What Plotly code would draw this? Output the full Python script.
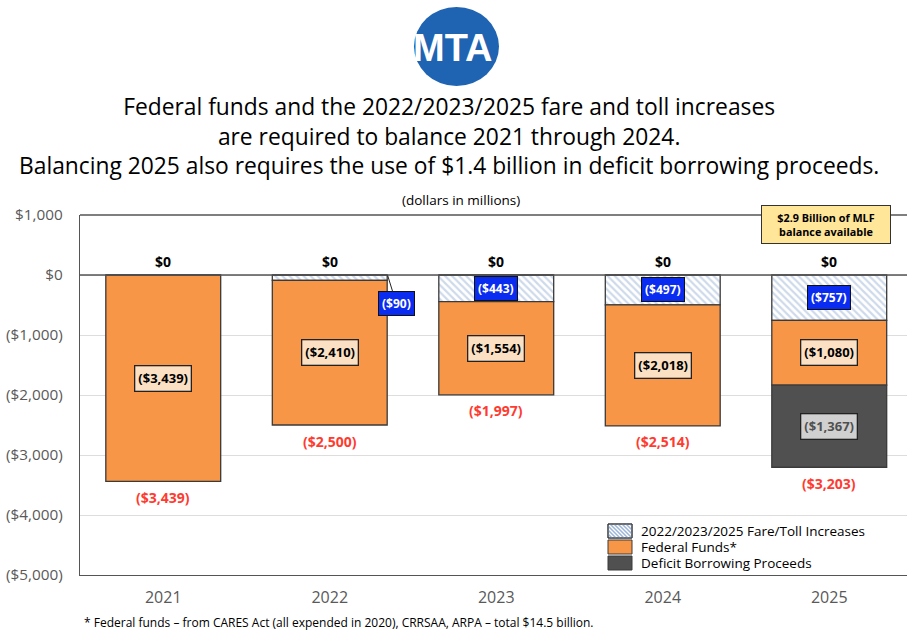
import plotly.graph_objects as go

years = ["2021", "2022", "2023", "2024", "2025"]
fare_toll = [0, -90, -443, -497, -757]
federal = [-3439, -2410, -1554, -2018, -1080]
deficit = [0, 0, 0, 0, -1367]
totals = [-3439, -2500, -1997, -2514, -3203]
tick_vals = [1000, 0, -1000, -2000, -3000, -4000, -5000]
tick_text = ["$1,000", "$0", "($1,000)", "($2,000)", "($3,000)", "($4,000)", "($5,000)"]
series_names = ["2022/2023/2025 Fare/Toll Increases", "Federal Funds*", "Deficit Borrowing Proceeds"]
title_lines = [
    "Federal funds and the 2022/2023/2025 fare and toll increases",
    "are required to balance 2021 through 2024.",
    "Balancing 2025 also requires the use of $1.4 billion in deficit borrowing proceeds.",
]

FONT = "Open Sans"
ORANGE = "#F79646"
DARK = "#505050"
EDGE = "#3A3A3A"
HATCH = "#9DB5D6"

# body margin removed via post_script, so figure fills the 907x633 window
W, H = 907, 633
ML, MT, MB = 80, 215, 58
PW, PH = 827, 360
MR = W - ML - PW  # 0


def px(xw):  # window pixel x -> paper x
    return (xw - ML) / PW


def py(yw):  # window pixel y -> paper y
    return (MT + PH - yw) / PH


def fmt(v):
    return "(${:,})".format(abs(v)) if v < 0 else "${:,}".format(v)


xi = list(range(len(years)))
fig = go.Figure()
fig.add_trace(go.Bar(
    x=xi, y=fare_toll, name=series_names[0], width=0.69,
    marker=dict(color="white", line=dict(color=EDGE, width=1.3),
                pattern=dict(shape="\\", fgcolor=HATCH, bgcolor="white", size=5, solidity=0.45)),
))
fig.add_trace(go.Bar(
    x=xi, y=federal, name=series_names[1], width=0.69,
    marker=dict(color=ORANGE, line=dict(color=EDGE, width=1.3)),
))
fig.add_trace(go.Bar(
    x=xi, y=deficit, name=series_names[2], width=0.69,
    marker=dict(color=DARK, line=dict(color=EDGE, width=1.3)),
))

ann = []
for i, y in enumerate(years):
    ann.append(dict(x=i, y=0, text="<b>$0</b>", showarrow=False, yshift=14,
                    font=dict(family=FONT, size=14, color="black")))
    ann.append(dict(x=i, y=totals[i], text="<b>" + fmt(totals[i]) + "</b>", showarrow=False,
                    yshift=-16, font=dict(family=FONT, size=14, color="#FF3B30")))
    if fare_toll[i] < 0 and i != 1:
        ann.append(dict(x=i, y=fare_toll[i] / 2, text="<b>" + fmt(fare_toll[i]) + "</b>",
                        showarrow=False, bgcolor="#0A2CF0", bordercolor="#111111", borderwidth=1,
                        borderpad=3, font=dict(family=FONT, size=12, color="white")))
    ann.append(dict(x=i, y=fare_toll[i] + federal[i] / 2, text="<b>" + fmt(federal[i]) + "</b>",
                    showarrow=False, bgcolor="#FBE0C4", bordercolor="#222222", borderwidth=1.3,
                    borderpad=3, font=dict(family=FONT, size=13, color="black")))
    if deficit[i] < 0:
        ann.append(dict(x=i, y=fare_toll[i] + federal[i] + deficit[i] / 2,
                        text="<b>" + fmt(deficit[i]) + "</b>",
                        showarrow=False, bgcolor="#D0D0D0", bordercolor="#222222", borderwidth=1.3,
                        borderpad=3, font=dict(family=FONT, size=13, color="#505050")))

# $90 callout with leader line
ann.append(dict(x=1.348, y=-10, ax=1.40, ay=-475, axref="x", ayref="y", xref="x", yref="y",
                text="<b>" + fmt(fare_toll[1]) + "</b>", showarrow=True, arrowhead=0,
                arrowwidth=1, arrowcolor="#222222",
                bgcolor="#0A2CF0", bordercolor="#111111", borderwidth=1, borderpad=3,
                font=dict(family=FONT, size=12, color="white")))

# MLF note
ann.append(dict(x=3.98, y=842, text="<b>$2.9 Billion of MLF<br>balance available</b>",
                showarrow=False, bgcolor="#FFE699", bordercolor="#333333", borderwidth=1,
                borderpad=3, width=122, height=31,
                font=dict(family=FONT, size=10.8, color="black")))

# title (one block)
ann.append(dict(xref="paper", yref="paper", x=px(449), y=py(136), xanchor="center", yanchor="middle",
                text="<br>".join(title_lines), showarrow=False, align="center",
                font=dict(family=FONT, size=22.8, color="black")))
ann.append(dict(xref="paper", yref="paper", x=px(461), y=py(200), xanchor="center", yanchor="middle",
                text="(dollars in millions)", showarrow=False,
                font=dict(family=FONT, size=13.5, color="black")))
# footnote
ann.append(dict(xref="paper", yref="paper", x=px(82), y=py(622), xanchor="left", yanchor="middle",
                text="* Federal funds \u2013 from CARES Act (all expended in 2020), CRRSAA, ARPA \u2013 total $14.5 billion.",
                showarrow=False, font=dict(family=FONT, size=12, color="black")))
# logo text
ann.append(dict(xref="paper", yref="paper", x=px(453), y=py(48), xanchor="center", yanchor="middle",
                text="<b>MTA</b>", showarrow=False,
                font=dict(family="Liberation Sans Narrow, Liberation Sans", size=38, color="white")))

shapes = [
    dict(type="circle", xref="paper", yref="paper",
         x0=px(414), x1=px(499), y0=py(86), y1=py(7),
         fillcolor="#1F63B3", line=dict(width=0), layer="above"),
    dict(type="line", xref="paper", yref="y", x0=0, x1=1, y0=0, y1=0,
         line=dict(color="#555555", width=1.3)),
    dict(type="line", xref="paper", yref="paper", x0=0, x1=1, y0=1, y1=1,
         line=dict(color="#555555", width=1.3)),
]

# manual legend (compact spacing like the reference)
sw_x0, sw_x1 = 608, 632
sw_rows = [(524, 538), (540, 554), (556, 570)]
sw_fills = ["white", ORANGE, DARK]
for (y0, y1), fill, name in zip(sw_rows, sw_fills, series_names):
    shapes.append(dict(type="rect", xref="paper", yref="paper",
                       x0=px(sw_x0), x1=px(sw_x1), y0=py(y1), y1=py(y0),
                       fillcolor=fill, line=dict(color=EDGE, width=1), layer="above"))
    ann.append(dict(xref="paper", yref="paper", x=px(639), y=py((y0 + y1) / 2),
                    xanchor="left", yanchor="middle", text=name, showarrow=False,
                    font=dict(family=FONT, size=13.5, color="black")))
# hatch lines inside the first swatch
y0, y1 = sw_rows[0]
segs = []
step = 4
for k in range(-(y1 - y0), sw_x1 - sw_x0, step):
    xa, ya = sw_x0 + k, y0
    xb, yb = xa + (y1 - y0), y1
    if xa < sw_x0:
        ya = y0 + (sw_x0 - xa)
        xa = sw_x0
    if xb > sw_x1:
        yb = y1 - (xb - sw_x1)
        xb = sw_x1
    if xb > xa:
        segs.append("M{:.4f},{:.4f} L{:.4f},{:.4f}".format(px(xa), py(ya), px(xb), py(yb)))
shapes.append(dict(type="path", xref="paper", yref="paper", path=" ".join(segs),
                   line=dict(color=HATCH, width=1.5), layer="above"))
shapes.append(dict(type="rect", xref="paper", yref="paper",
                   x0=px(sw_x0), x1=px(sw_x1), y0=py(y1), y1=py(y0),
                   fillcolor="rgba(0,0,0,0)", line=dict(color=EDGE, width=1), layer="above"))

fig.update_layout(
    width=W, height=H,
    margin=dict(l=ML, r=MR, t=MT, b=MB, autoexpand=False),
    barmode="relative",
    bargap=0.31,
    plot_bgcolor="white", paper_bgcolor="white",
    font=dict(family=FONT, color="#595959"),
    showlegend=False,
    xaxis=dict(range=[-0.5, 4.467], tickvals=xi, ticktext=years, showgrid=False,
               showline=True, linecolor="#555555", linewidth=1.3,
               ticks="", ticklabelstandoff=8,
               tickfont=dict(family=FONT, size=16, color="#595959"), zeroline=False),
    yaxis=dict(range=[-5000, 1000], tickvals=tick_vals, ticktext=tick_text,
               showgrid=True, gridcolor="#DDDDDD", gridwidth=1,
               showline=True, linecolor="#555555", linewidth=1.3, zeroline=False,
               ticks="", ticklabelstandoff=13,
               tickfont=dict(family=FONT, size=15.3, color="#595959")),
    annotations=ann,
    shapes=shapes,
)

fig.write_html(
    "out.html",
    config={"displayModeBar": False},
    post_script="document.body.style.margin='0';document.body.style.overflow='hidden';",
)
